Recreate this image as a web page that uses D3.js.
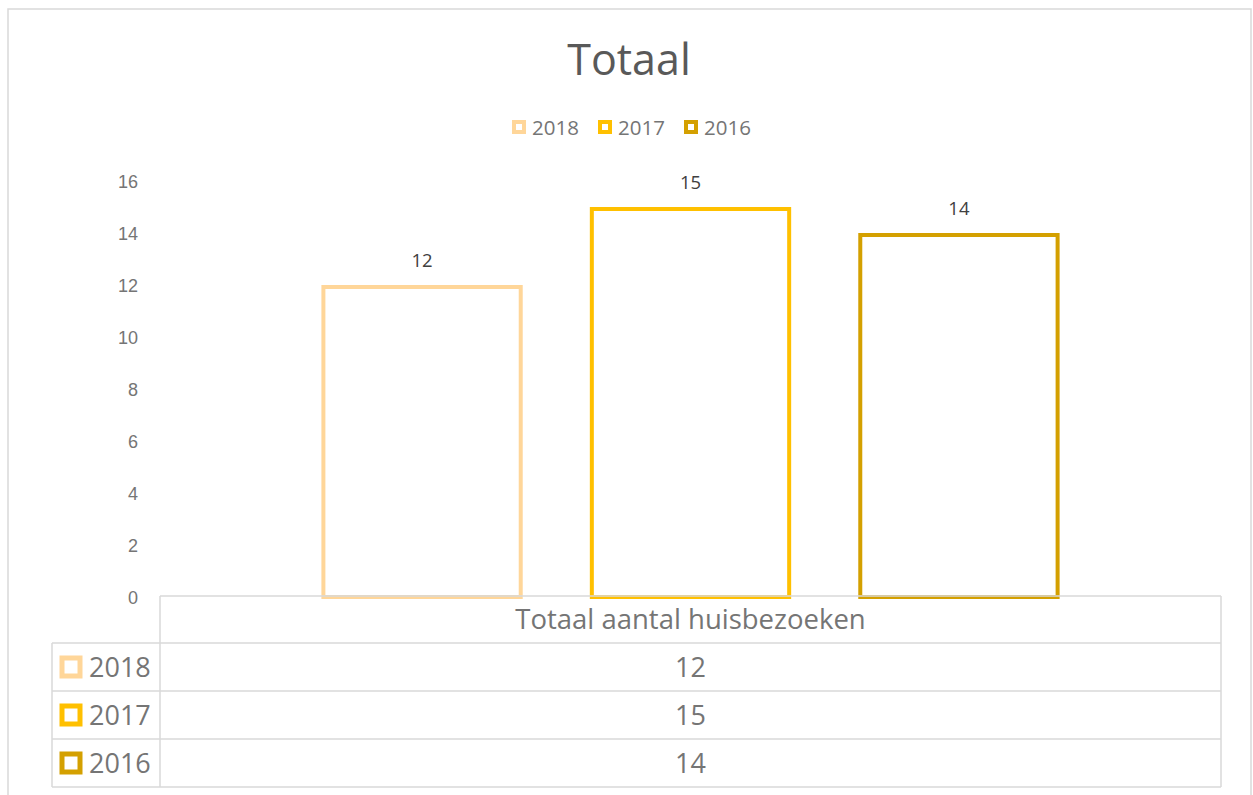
<!DOCTYPE html>
<html lang="nl">
<head>
<meta charset="UTF-8">
<title>Totaal</title>
<style>
    body, html { margin: 0; padding: 0; background: #fff; overflow: hidden; }
    svg { display: block; font-family: "Open Sans", sans-serif; }
    .tick text { fill: #757575; font-size: 18px; }
</style>
</head>
<body>
<svg width="1253" height="795"></svg>
<script src="https://d3js.org/d3.v7.min.js"></script>
<script>
    const categories = ["Totaal aantal huisbezoeken"];
    const seriesNames = ["2018", "2017", "2016"];
    const seriesValues = [12, 15, 14];
    const seriesColors = ["#FFD699", "#FFC000", "#D4A000"];
    const yTicks = [0, 2, 4, 6, 8, 10, 12, 14, 16];

    const svg = d3.select("svg");
    const plot = { left: 160, right: 1221, top: 181, bottom: 597 };
    const textGray = "#757575";

    // outer chart border
    svg.append("rect")
        .attr("x", 8).attr("y", 9).attr("width", 1243).attr("height", 800)
        .attr("fill", "none").attr("stroke", "#d9d9d9").attr("stroke-width", 1.5);

    svg.append("text")
        .attr("x", 629).attr("y", 75)
        .attr("text-anchor", "middle")
        .attr("fill", "#595959").attr("font-size", 43)
        .text("Totaal");

    const y = d3.scaleLinear().domain([0, 16]).range([plot.bottom, plot.top]);

    const x0 = d3.scaleBand().domain(categories)
        .range([plot.left, plot.right]).padding(0.137);
    const x1 = d3.scaleBand().domain(seriesNames)
        .range([0, x0.bandwidth()]).paddingInner(0.25).paddingOuter(0.125);

    // y axis, labels only
    const yAxis = svg.append("g")
        .attr("transform", `translate(${plot.left - 22},0)`)
        .call(d3.axisLeft(y).tickValues(yTicks).tickSize(0).tickPadding(0));
    yAxis.select(".domain").remove();
    yAxis.selectAll(".tick text").attr("dy", "0.35em");

    // legend
    const legendX = [512, 598, 684];
    const legend = svg.append("g");
    seriesNames.forEach((s, i) => {
        legend.append("rect")
            .attr("x", legendX[i] + 2).attr("y", 122).attr("width", 10).attr("height", 10)
            .attr("fill", "#fff").attr("stroke", seriesColors[i]).attr("stroke-width", 4);
        legend.append("text")
            .attr("x", legendX[i] + 20).attr("y", 135)
            .attr("fill", textGray).attr("font-size", 20.5)
            .text(s);
    });

    // bars
    const sw = 4;
    categories.forEach(c => {
        seriesNames.forEach((s, i) => {
            const bx = x0(c) + x1(s);
            svg.append("rect")
                .attr("x", bx + sw / 2)
                .attr("y", y(seriesValues[i]) + sw / 2)
                .attr("width", x1.bandwidth() - sw)
                .attr("height", y(0) - y(seriesValues[i]) - sw / 2)
                .attr("fill", "#fff")
                .attr("stroke", seriesColors[i])
                .attr("stroke-width", sw);
            svg.append("text")
                .attr("x", bx + x1.bandwidth() / 2)
                .attr("y", y(seriesValues[i]) - 18)
                .attr("text-anchor", "middle")
                .attr("fill", "#404040").attr("font-size", 18.5)
                .text(seriesValues[i]);
        });
    });

    // data table
    const grid = "#d9d9d9";
    const rowY = [596, 643, 691, 739, 787];
    const tbl = svg.append("g").attr("stroke", grid).attr("stroke-width", 1.5).attr("fill", "none");
    // header cell
    tbl.append("line").attr("x1", plot.left).attr("x2", plot.right).attr("y1", rowY[0]).attr("y2", rowY[0]);
    tbl.append("line").attr("x1", plot.left).attr("x2", plot.left).attr("y1", rowY[0]).attr("y2", rowY[4]);
    tbl.append("line").attr("x1", plot.right).attr("x2", plot.right).attr("y1", rowY[0]).attr("y2", rowY[4]);
    tbl.append("line").attr("x1", 52).attr("x2", 52).attr("y1", rowY[1]).attr("y2", rowY[4]);
    rowY.slice(1).forEach(ry => {
        tbl.append("line").attr("x1", 52).attr("x2", plot.right).attr("y1", ry).attr("y2", ry);
    });

    svg.append("text")
        .attr("x", x0(categories[0]) + x0.bandwidth() / 2).attr("y", 629)
        .attr("text-anchor", "middle").attr("fill", textGray).attr("font-size", 27.5)
        .text(categories[0]);

    seriesNames.forEach((s, i) => {
        const cy = (rowY[i + 1] + rowY[i + 2]) / 2;
        svg.append("rect")
            .attr("x", 62).attr("y", cy - 9).attr("width", 18).attr("height", 18)
            .attr("fill", "#fff").attr("stroke", seriesColors[i]).attr("stroke-width", 5);
        svg.append("text")
            .attr("x", 89).attr("y", cy + 10)
            .attr("fill", textGray).attr("font-size", 27)
            .text(s);
        svg.append("text")
            .attr("x", x0(categories[0]) + x0.bandwidth() / 2).attr("y", cy + 10)
            .attr("text-anchor", "middle").attr("fill", textGray).attr("font-size", 27)
            .text(seriesValues[i]);
    });
</script>
</body>
</html>
